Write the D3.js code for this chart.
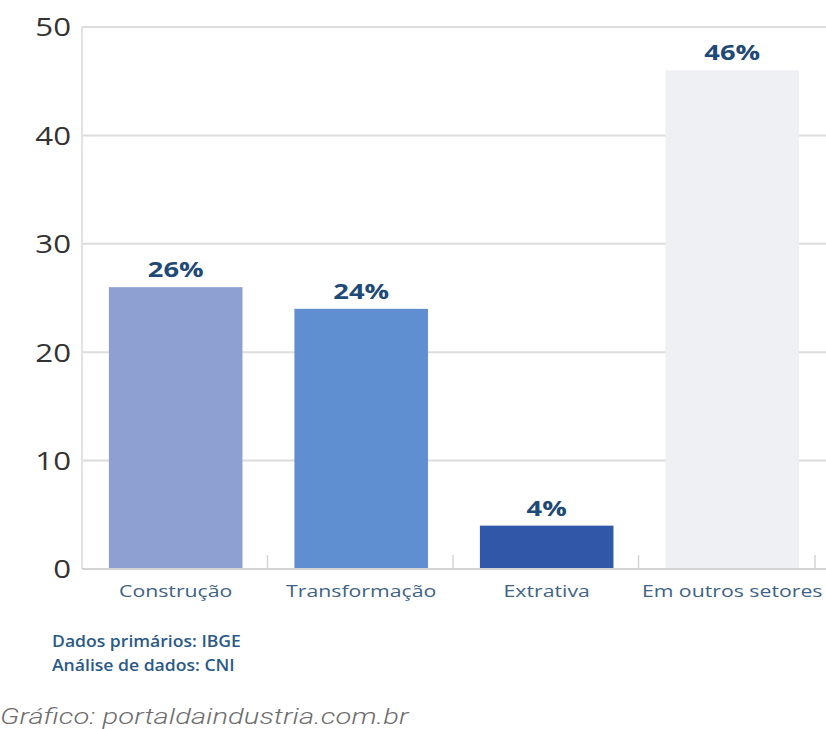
<!DOCTYPE html>
<html>
<head>
<meta charset="utf-8">
<script src="https://cdn.jsdelivr.net/npm/d3@7"></script>
<style>
	body { margin: 0; background: #fff; }
	svg { display: block; font-family: "Open Sans", "Noto Sans", sans-serif; }
</style>
</head>
<body>
<div id="chart"></div>
<script>
// data
var categories = ["Construção", "Transformação", "Extrativa", "Em outros setores"];
var values = [26, 24, 4, 46];
var valueLabels = ["26%", "24%", "4%", "46%"];
var barColors = ["#8e9fd1", "#5f8fd0", "#3157a8", "#eef0f3"];
var yTicks = [0, 10, 20, 30, 40, 50];
var sourceLines = ["Dados primários: IBGE", "Análise de dados: CNI"];
var footer = "Gráfico: portaldaindustria.com.br";

var width = 826, height = 729;
var plot = { left: 82, right: 824, top: 27, bottom: 569 };

var svg = d3.select("#chart").append("svg")
	.attr("width", width)
	.attr("height", height);

// the original artwork is stretched sideways, so text gets a horizontal scale
function place(sel, fx, fy, sx) {
	sel.attr("transform", function(d, i) {
		return "translate(" + fx(d, i) + "," + fy(d, i) + ") scale(" + sx + ",1)";
	});
}

// scales
var x = d3.scaleBand()
	.domain(categories)
	.range([plot.left, plot.right])
	.padding(0);

var y = d3.scaleLinear()
	.domain([0, 50])
	.range([plot.bottom, plot.top]);

var barOffset = 0.145, barWidth = 0.72;
function barMid(d) { return x(d) + x.bandwidth() * (barOffset + barWidth / 2); }

// grid lines
svg.append("g")
	.selectAll("line")
	.data(yTicks.filter(function(d) { return d > 0; }))
	.enter().append("line")
	.attr("x1", plot.left)
	.attr("x2", width)
	.attr("y1", function(d) { return y(d); })
	.attr("y2", function(d) { return y(d); })
	.attr("stroke", "#dcdcdc")
	.attr("stroke-width", 2);

// y axis line
svg.append("line")
	.attr("x1", plot.left).attr("x2", plot.left)
	.attr("y1", y(50)).attr("y2", y(0))
	.attr("stroke", "#e2e2e2")
	.attr("stroke-width", 2);

// y tick labels
svg.append("g")
	.selectAll("text")
	.data(yTicks)
	.enter().append("text")
	.attr("dy", "0.36em")
	.attr("text-anchor", "end")
	.attr("font-size", 26)
	.attr("fill", "#333")
	.text(function(d) { return d; })
	.call(place, function() { return 71; }, function(d) { return y(d); }, 1.2);

// bars
svg.append("g")
	.selectAll("rect")
	.data(categories)
	.enter().append("rect")
	.attr("x", function(d) { return x(d) + x.bandwidth() * barOffset; })
	.attr("width", x.bandwidth() * barWidth)
	.attr("y", function(d, i) { return y(values[i]); })
	.attr("height", function(d, i) { return y(0) - y(values[i]); })
	.attr("fill", function(d, i) { return barColors[i]; });

// x axis baseline and ticks
svg.append("line")
	.attr("x1", plot.left).attr("x2", width)
	.attr("y1", y(0)).attr("y2", y(0))
	.attr("stroke", "#d4d4d4")
	.attr("stroke-width", 2);

svg.append("g")
	.selectAll("line")
	.data(categories.slice(1).concat([null]))
	.enter().append("line")
	.attr("x1", function(d) { return d ? x(d) : plot.right - 9; })
	.attr("x2", function(d) { return d ? x(d) : plot.right - 9; })
	.attr("y1", y(0) - 14)
	.attr("y2", y(0))
	.attr("stroke", "#d4d4d4")
	.attr("stroke-width", 1.5);

// value labels
svg.append("g")
	.selectAll("text")
	.data(categories)
	.enter().append("text")
	.attr("text-anchor", "middle")
	.attr("font-size", 21)
	.attr("font-weight", "bold")
	.attr("fill", "#1f4a78")
	.text(function(d, i) { return valueLabels[i]; })
	.call(place, barMid, function(d, i) { return y(values[i]) - 10; }, 1.3);

// category labels
svg.append("g")
	.selectAll("text")
	.data(categories)
	.enter().append("text")
	.attr("text-anchor", "middle")
	.attr("font-size", 17)
	.attr("fill", "#3e6386")
	.text(function(d) { return d; })
	.call(place, barMid, function() { return 597; }, 1.25);

// source
svg.append("g")
	.selectAll("text")
	.data(sourceLines)
	.enter().append("text")
	.attr("font-size", 16)
	.attr("font-weight", 600)
	.attr("fill", "#2b5a87")
	.text(function(d) { return d; })
	.call(place, function() { return 52; }, function(d, i) { return 647 + i * 24; }, 1.1);

// footer
svg.append("text")
	.attr("font-size", 22)
	.attr("font-style", "italic")
	.attr("fill", "#6e6e6e")
	.attr("font-family", "Roboto, sans-serif")
	.attr("font-weight", 300)
	.text(footer)
	.call(place, function() { return 0; }, function() { return 724; }, 1.33);
</script>
</body>
</html>
